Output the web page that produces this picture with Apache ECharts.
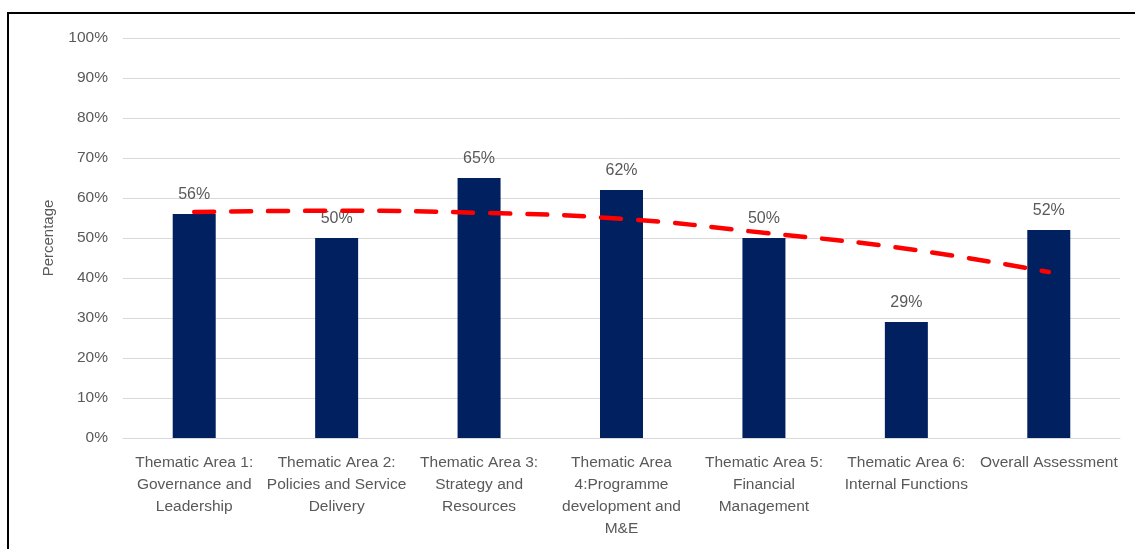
<!DOCTYPE html>
<html>
<head>
<meta charset="utf-8">
<script src="https://cdn.jsdelivr.net/npm/echarts@6/dist/echarts.min.js"></script>
<style>
    html, body {
        margin: 0;
        padding: 0;
        background: #fff;
    }
    .wrap {
        position: relative;
        width: 1135px;
        height: 549px;
        overflow: hidden;
    }
    .frame {
        position: absolute;
        left: 7px;
        top: 12px;
        width: 1200px;
        height: 600px;
        border: 2px solid #000;
        box-sizing: border-box;
    }
    #chart {
        position: absolute;
        left: 0;
        top: 0;
        width: 1135px;
        height: 549px;
    }
</style>
</head>
<body>
<div class="wrap">
    <div class="frame"></div>
    <div id="chart"></div>
</div>
<script>
// categories (line breaks as in the original axis)
const categories = [
    'Thematic Area 1:\nGovernance and\nLeadership',
    'Thematic Area 2:\nPolicies and Service\nDelivery',
    'Thematic Area 3:\nStrategy and\nResources',
    'Thematic Area\n4:Programme\ndevelopment and\nM&E',
    'Thematic Area 5:\nFinancial\nManagement',
    'Thematic Area 6:\nInternal Functions',
    'Overall Assessment'
]
// score per area, percent
const scores = [56, 50, 65, 62, 50, 29, 52]
// red dashed trendline
const trend = [56.5, 56.8, 56.3, 54.8, 51.3, 47.3, 41.5]

const grey = '#595959'
const font = 'Liberation Sans, Arial, sans-serif'
const chart = echarts.init(document.getElementById('chart'))

const option = {
    animation: false,
    grid: {
        left: 123,
        right: 15,
        top: 38,
        bottom: 111
    },
    xAxis: {
        type: 'category',
        data: categories,
        axisTick: { show: false },
        axisLine: {
            lineStyle: { color: '#d9d9d9', width: 1 }
        },
        axisLabel: {
            interval: 0,
            color: grey,
            fontFamily: font,
            fontSize: 15.5,
            lineHeight: 22,
            margin: 14
        }
    },
    yAxis: {
        type: 'value',
        min: 0,
        max: 100,
        interval: 10,
        name: 'Percentage',
        nameLocation: 'middle',
        nameRotate: 90,
        nameGap: 67,
        nameTextStyle: {
            color: grey,
            fontFamily: font,
            fontSize: 15
        },
        axisLine: { show: false },
        axisTick: { show: false },
        axisLabel: {
            formatter: '{value}%',
            color: grey,
            fontFamily: font,
            fontSize: 15.5,
            margin: 15
        },
        splitLine: {
            lineStyle: { color: '#d9d9d9', width: 1 }
        }
    },
    series: [
        {
            type: 'bar',
            data: scores,
            barWidth: 43,
            itemStyle: { color: '#002060' },
            label: {
                show: true,
                position: 'top',
                distance: 11,
                formatter: '{c}%',
                color: grey,
                fontFamily: font,
                fontSize: 16
            }
        },
        {
            type: 'line',
            data: trend,
            smooth: true,
            symbol: 'none',
            z: 5,
            lineStyle: {
                color: '#ff0000',
                width: 4.5,
                type: [20, 17],
                cap: 'round'
            }
        }
    ]
}
chart.setOption(option)
</script>
</body>
</html>
